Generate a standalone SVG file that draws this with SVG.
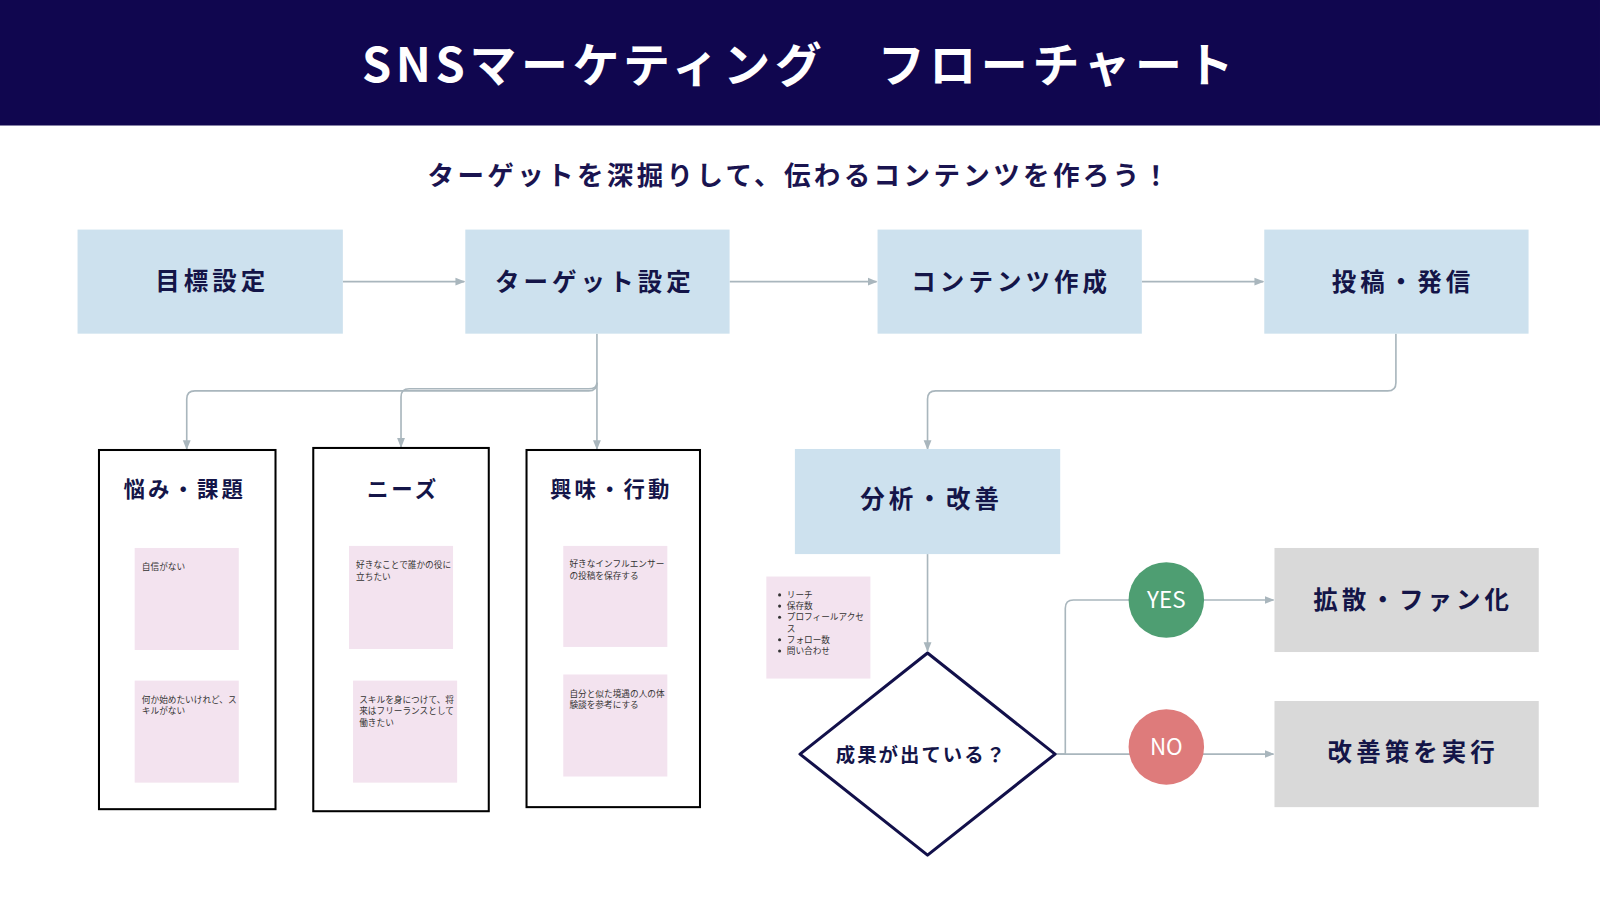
<svg xmlns="http://www.w3.org/2000/svg" width="1600" height="900" viewBox="0 0 1600 900">
<style>
text{font-family:"Noto Sans CJK JP","Noto Sans",sans-serif;}
.hb{fill:#cde1ee}
.ht{font-size:24px;font-weight:700;fill:#141548;text-anchor:middle;letter-spacing:4px}
.col{fill:#fff;stroke:#000;stroke-width:2}
.ct{font-size:21px;font-weight:700;fill:#141548;text-anchor:middle;letter-spacing:3px}
.st{fill:#f3e3ef}
.sn{font-size:8.5px;fill:#333}
.ln{fill:none;stroke:#a9b6bd;stroke-width:1.6}
.gb{fill:#d9d9d9}
</style>
<defs><marker id="a" viewBox="0 0 10 10" refX="9" refY="5" markerWidth="6" markerHeight="6" orient="auto"><path d="M0 1L10 5L0 9z" fill="#a9b6bd"/></marker></defs>
<g transform="scale(1.0204)">
<rect x="0" y="0" width="1568" height="123" fill="#10064f"/>
<text x="784" y="80" font-size="46" font-weight="700" fill="#fff" text-anchor="middle" letter-spacing="4.5">SNSマーケティング　フローチャート</text>
<text x="784" y="181" font-size="26" font-weight="700" fill="#1a1450" text-anchor="middle" letter-spacing="3.3">ターゲットを深掘りして、伝わるコンテンツを作ろう！</text>
<g id="connectors">
<path class="ln" marker-end="url(#a)" d="M336 276H455"/>
<path class="ln" marker-end="url(#a)" d="M715 276H859"/>
<path class="ln" marker-end="url(#a)" d="M1119 276H1238"/>
<path class="ln" marker-end="url(#a)" d="M585 327V375Q585 383 577 383H191Q183 383 183 391V440"/>
<path class="ln" marker-end="url(#a)" d="M585 375Q585 381 577 381H401Q393 381 393 389V438"/>
<path class="ln" marker-end="url(#a)" d="M585 375V440"/>
<path class="ln" marker-end="url(#a)" d="M1368 327V375Q1368 383 1360 383H917Q909 383 909 391V440"/>
<path class="ln" marker-end="url(#a)" d="M909 543V638"/>
<path class="ln" marker-end="url(#a)" d="M1034 739H1044V596Q1044 588 1052 588H1248"/>
<path class="ln" marker-end="url(#a)" d="M1034 739H1248"/>
</g>
<g id="n-goal"><rect class="hb" x="76" y="225" width="260" height="102"/><text class="ht" x="208" y="284">目標設定</text></g>
<g id="n-target"><rect class="hb" x="456" y="225" width="259" height="102"/><text class="ht" x="583" y="285">ターゲット設定</text></g>
<g id="n-content"><rect class="hb" x="860" y="225" width="259" height="102"/><text class="ht" x="991" y="285">コンテンツ作成</text></g>
<g id="n-post"><rect class="hb" x="1239" y="225" width="259" height="102"/><text class="ht" x="1375" y="285">投稿・発信</text></g>
<g id="c-pain"><rect class="col" x="97" y="441" width="173" height="352"/><text class="ct" x="181" y="487">悩み・課題</text>
<rect class="st" x="132" y="537" width="102" height="100"/><text class="sn" x="139" y="559">自信がない</text>
<rect class="st" x="132" y="667" width="102" height="100"/><text class="sn" x="139" y="689">何か始めたいけれど、ス</text><text class="sn" x="139" y="700">キルがない</text></g>
<g id="c-needs"><rect class="col" x="307" y="439" width="172" height="356"/><text class="ct" x="395" y="487">ニーズ</text>
<rect class="st" x="342" y="535" width="102" height="101"/><text class="sn" x="349" y="557">好きなことで誰かの役に</text><text class="sn" x="349" y="568">立ちたい</text>
<rect class="st" x="346" y="667" width="102" height="100"/><text class="sn" x="352" y="689">スキルを身につけて、将</text><text class="sn" x="352" y="700">来はフリーランスとして</text><text class="sn" x="352" y="711">働きたい</text></g>
<g id="c-interest"><rect class="col" x="516" y="441" width="170" height="350"/><text class="ct" x="599" y="487">興味・行動</text>
<rect class="st" x="552" y="535" width="102" height="99"/><text class="sn" x="558" y="556">好きなインフルエンサー</text><text class="sn" x="558" y="567">の投稿を保存する</text>
<rect class="st" x="552" y="661" width="102" height="100"/><text class="sn" x="558" y="683">自分と似た境遇の人の体</text><text class="sn" x="558" y="694">験談を参考にする</text></g>
<g id="n-analysis"><rect class="hb" x="779" y="440" width="260" height="103"/><text class="ht" x="913" y="498">分析・改善</text></g>
<g id="n-metrics"><rect class="st" x="751" y="565" width="102" height="100"/>
<g fill="#333"><circle cx="764" cy="583" r="1.5"/><circle cx="764" cy="594" r="1.5"/><circle cx="764" cy="605" r="1.5"/><circle cx="764" cy="627" r="1.5"/><circle cx="764" cy="638" r="1.5"/></g>
<text class="sn" x="771" y="586">リーチ</text><text class="sn" x="771" y="597">保存数</text><text class="sn" x="771" y="608">プロフィールアクセ</text><text class="sn" x="771" y="619">ス</text><text class="sn" x="771" y="630">フォロー数</text><text class="sn" x="771" y="641">問い合わせ</text></g>
<g id="n-decision"><path d="M909 640L1034 739L909 838L784 739Z" fill="#fff" stroke="#12104a" stroke-width="3" stroke-linejoin="round"/><text x="903" y="747" font-size="19" font-weight="700" fill="#141548" text-anchor="middle" letter-spacing="2">成果が出ている？</text></g>
<g id="n-yes"><circle cx="1143" cy="588" r="37" fill="#4e9e72"/><text x="1143" y="596" font-size="22" fill="#fff" text-anchor="middle" font-family="Liberation Sans,sans-serif">YES</text></g>
<g id="n-no"><circle cx="1143" cy="732" r="37" fill="#de7b7b"/><text x="1143" y="740" font-size="22" fill="#fff" text-anchor="middle" font-family="Liberation Sans,sans-serif">NO</text></g>
<g id="n-fan"><rect class="gb" x="1249" y="537" width="259" height="102"/><text class="ht" x="1385" y="597">拡散・ファン化</text></g>
<g id="n-improve"><rect class="gb" x="1249" y="687" width="259" height="104"/><text class="ht" x="1385" y="746">改善策を実行</text></g>
</g>
</svg>
